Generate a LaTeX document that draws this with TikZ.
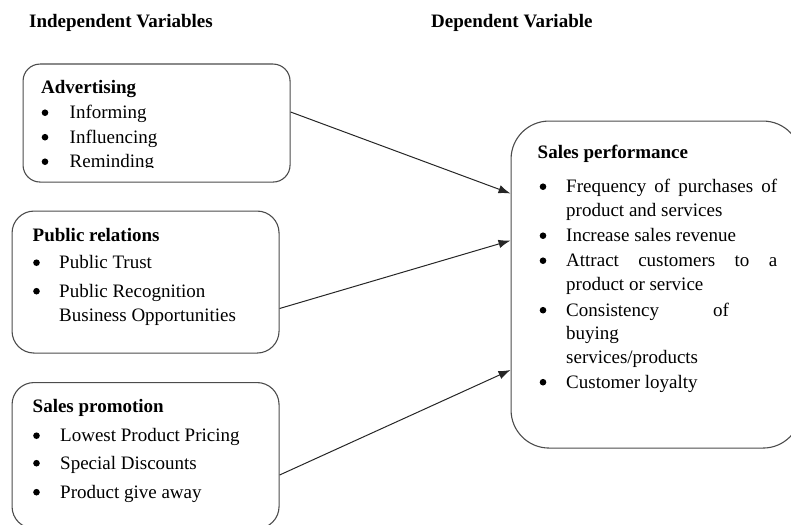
\documentclass[tikz,border=0pt]{standalone}
\usepackage{fontspec}
\setmainfont{Liberation Serif}
\usetikzlibrary{arrows.meta,calc}
\tikzset{
  box/.style={draw=black!70, line width=1.1pt, fill=none, inner sep=0pt, anchor=north west},
  txt/.style={inner sep=0pt, anchor=base west, font=\fontsize{19pt}{23pt}\selectfont},
  ttl/.style={txt, font=\fontsize{19pt}{23pt}\selectfont\bfseries},
  bul/.style={circle, fill=black, inner sep=0pt, minimum size=6.6pt, yshift=5.8pt},
  arr/.style={draw=black!85, line width=1pt, -{Latex[length=12pt,width=8.5pt]}}
}
\begin{document}
\begin{tikzpicture}[x=1pt,y=-1pt]
\useasboundingbox (0,0) rectangle (791,524);
% headings
\node[ttl] (hind) at (29,28) {Independent Variables};
\node[ttl] (hdep) at (431,28) {Dependent Variable};
% boxes
\node[box, rounded corners=17pt, minimum width=267pt, minimum height=118pt] (adv) at (22.5,63.5) {};
\node[box, rounded corners=22pt, minimum width=267pt, minimum height=142pt] (pr) at (11.5,210.5) {};
\node[box, rounded corners=22pt, minimum width=267pt, minimum height=146pt] (sp) at (11.5,382) {};
\node[box, rounded corners=38pt, minimum width=290pt, minimum height=327pt] (perf) at (510.5,120.5) {};
% Advertising
\node[ttl] (advT) at (41,93.5) {Advertising};
\node[bul] (advb1) at (45,118.5) {};
\node[txt] (adv1) at (69.5,118.5) {Informing};
\node[bul] (advb2) at (45,143) {};
\node[txt] (adv2) at (69.5,143) {Influencing};
\node[bul] (advb3) at (45,167.5) {};
\begin{scope}
\clip (0,0) rectangle (791,167.5);
\node[txt] (adv3) at (69.5,167.5) {Reminding};
\end{scope}
% Public relations
\node[ttl] (prT) at (32.5,241.5) {Public relations};
\node[bul] (prb1) at (36.5,268.5) {};
\node[txt] (pr1) at (59,268.5) {Public Trust};
\node[bul] (prb2) at (36.5,297) {};
\node[txt] (pr2) at (59,297) {Public Recognition};
\node[txt] (pr3) at (59,321.5) {Business Opportunities};
% Sales promotion
\node[ttl] (spT) at (32.5,412.5) {Sales promotion};
\node[bul] (spb1) at (36.5,441.5) {};
\node[txt] (sp1) at (60,441.5) {Lowest Product Pricing};
\node[bul] (spb2) at (36.5,469) {};
\node[txt] (sp2) at (60,469) {Special Discounts};
\node[bul] (spb3) at (36.5,498) {};
\node[txt] (sp3) at (60,498) {Product give away};
% Sales performance
\node[ttl] (pfT) at (537.5,158.5) {Sales performance};
\node[bul] (pfb1) at (543,192.5) {};
\node[txt] (pf1) at (566,192.5) {\makebox[211pt][s]{Frequency of purchases of}};
\node[txt] (pf1b) at (566,216.5) {product and services};
\node[bul] (pfb2) at (543,241.5) {};
\node[txt] (pf2) at (566,241.5) {Increase sales revenue};
\node[bul] (pfb3) at (543,266.5) {};
\node[txt] (pf3) at (566,266.5) {\makebox[211pt][s]{Attract customers to a}};
\node[txt] (pf3b) at (566,290.5) {product or service};
\node[bul] (pfb4) at (543,316) {};
\node[txt] (pf4) at (566,316) {Consistency};
\node[txt] (pf4o) at (713,316) {of};
\node[txt] (pf4b) at (566,339.5) {buying};
\node[txt] (pf4c) at (566,363.5) {services/products};
\node[bul] (pfb5) at (543,388) {};
\node[txt] (pf5) at (566,388) {Customer loyalty};
% arrows
\draw[arr] ($(adv.north east)+(0,48.5)$) -- ($(perf.north west)+(0,73)$);
\draw[arr] ($(pr.north east)+(0,98)$) -- ($(perf.north west)+(0,120)$);
\draw[arr] ($(sp.north east)+(0,93)$) -- ($(perf.north west)+(0,249.5)$);
\end{tikzpicture}
\end{document}
